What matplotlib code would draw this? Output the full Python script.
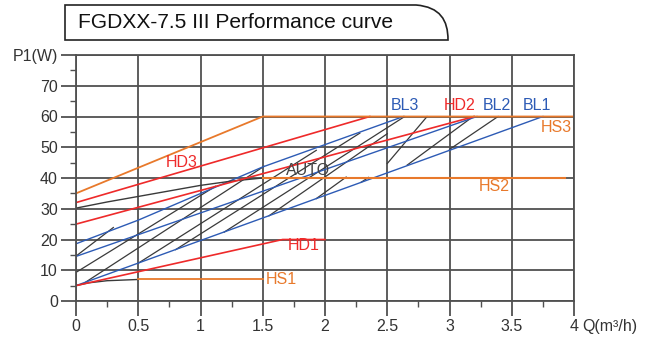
import numpy as np
import matplotlib.pyplot as plt
from matplotlib.path import Path
from matplotlib.patches import PathPatch

plt.rcParams['font.family'] = ['Liberation Sans', 'DejaVu Sans']

# --- data (Q in m3/h, P1 in W) ---
hs3_q = [0, 1.5, 4.0]
hs3_p = [35, 60, 60]
hd3_q = [0, 2.36]
hd3_p = [32, 60]
hd2_q = [0, 3.2]
hd2_p = [25, 60]
hd1_q = [0, 1.66, 2.0]
hd1_p = [5, 20, 20]
bl3_q = [0, 0.5, 1.5, 2.63]
bl3_p = [18.6, 26.3, 43.6, 60]
bl2_q = [0, 3.22]
bl2_p = [14.5, 60]
bl1_q = [0, 3.75]
bl1_p = [5, 60]
auto_q = [0, 0.25, 0.5, 0.75, 1.0, 1.25, 1.5]
auto_p = [30.2, 32.2, 34.0, 35.8, 37.6, 39.0, 40.0]
hs2_q = [1.5, 3.93]
hs2_p = [40, 40]
hs1c_q = [0, 0.1, 0.25, 0.5]
hs1c_p = [5, 5.9, 6.6, 7.0]
hs1_q = [0.5, 1.5]
hs1_p = [7, 7]

# hatch segments: q0, p0, q1, p1
hatch = [
    (0, 9.3, 1.12, 37.3),
    (0.08, 6.2, 1.51, 43.8),
    (0, 14.6, 0.30, 23.9),
    (0.5, 12.3, 1.93, 49.0),
    (0.8, 16.7, 2.28, 54.6),
    (1.19, 22.4, 2.64, 60.0),
    (1.55, 27.7, 2.50, 54.4),
    (1.93, 33.3, 2.17, 40.3),
    (2.29, 38.6, 2.35, 40.2),
    (2.50, 44.7, 2.82, 60.0),
    (2.66, 44.2, 3.19, 60.0),
    (3.00, 49.3, 3.39, 60.0),
]

c_or = '#E8792B'
c_red = '#EE2A2A'
c_blue = '#2D5BB5'
c_blk = '#3A3A3A'
c_grid = '#505050'

fig = plt.figure(figsize=(6.48, 3.42), dpi=100)
ax = fig.add_axes([76/648, 41/342, 498/648, 246/342])

ax.set_xlim(0, 4)
ax.set_ylim(0, 80)
ax.set_xticks(np.arange(0, 4.01, 0.5))
ax.set_xticklabels(['0', '0.5', '1', '1.5', '2', '2.5', '3', '3.5', '4'])
ax.set_xticks(np.arange(0.25, 4, 0.5), minor=True)
ax.set_yticks(np.arange(0, 81, 10))
ax.set_yticklabels(['0', '10', '20', '30', '40', '50', '60', '70', 'P1(W)'])
ax.set_yticks(np.arange(5, 80, 10), minor=True)
ax.grid(True, which='major', color=c_grid, lw=1.3)
ax.tick_params(which='major', length=11, width=1.3, color=c_grid,
               labelsize=11.5, labelcolor='#333333', pad=2)
ax.tick_params(which='minor', length=4, width=1.0, color=c_grid)
for s in ax.spines.values():
    s.set_color(c_grid)
    s.set_linewidth(1.3)

for q0, p0, q1, p1 in hatch:
    ax.plot([q0, q1], [p0, p1], color=c_blk, lw=0.9)

ax.plot(bl1_q, bl1_p, color=c_blue, lw=1.0)
ax.plot(bl2_q, bl2_p, color=c_blue, lw=1.0)
ax.plot(bl3_q, bl3_p, color=c_blue, lw=1.0)
ax.plot(auto_q, auto_p, color=c_blk, lw=1.0)
ax.plot(hs1c_q, hs1c_p, color=c_blk, lw=1.0)
ax.plot(hd1_q, hd1_p, color=c_red, lw=1.2)
ax.plot(hd2_q, hd2_p, color=c_red, lw=1.2)
ax.plot(hd3_q, hd3_p, color=c_red, lw=1.2)
ax.plot(hs1_q, hs1_p, color=c_or, lw=1.3)
ax.plot(hs2_q, hs2_p, color=c_or, lw=1.5)
ax.plot(hs3_q, hs3_p, color=c_or, lw=1.3)

fs = 11.5
ax.text(0.85, 45, 'HD3', color=c_red, fontsize=fs, ha='center', va='center')
ax.text(1.86, 42.5, 'AUTO', color='#444444', fontsize=fs, ha='center', va='center')
ax.text(1.83, 17.9, 'HD1', color=c_red, fontsize=fs, ha='center', va='center')
ax.text(1.65, 7.1, 'HS1', color=c_or, fontsize=fs, ha='center', va='center')
ax.text(3.36, 37.3, 'HS2', color=c_or, fontsize=fs, ha='center', va='center')
ax.text(3.86, 56.5, 'HS3', color=c_or, fontsize=fs, ha='center', va='center')
ax.text(2.64, 63.5, 'BL3', color=c_blue, fontsize=fs, ha='center', va='center')
ax.text(3.08, 63.5, 'HD2', color=c_red, fontsize=fs, ha='center', va='center')
ax.text(3.38, 63.5, 'BL2', color=c_blue, fontsize=fs, ha='center', va='center')
ax.text(3.70, 63.5, 'BL1', color=c_blue, fontsize=fs, ha='center', va='center')

fig.text(582/648, 1 - 326/342, 'Q(m³/h)', fontsize=11.5, color='#333333',
         ha='left', va='center')

# title tab with rounded upper-right corner
W, H = 648, 342
x0, x1, y0, y1 = 65, 448, 5, 40
pts = [(x0, y1), (x0, y0), (x1 - 32, y0), (x1 - 8, y0 + 2), (x1, y1 - 20), (x1, y1), (x0, y1)]
codes = [Path.MOVETO, Path.LINETO, Path.LINETO, Path.CURVE4, Path.CURVE4, Path.CURVE4, Path.CLOSEPOLY]
pts = [(x / W, 1 - y / H) for x, y in pts]
fig.patches.append(PathPatch(Path(pts, codes), transform=fig.transFigure,
                             facecolor='white', edgecolor='#222222', lw=1.2))
fig.text(78 / W, 1 - 23 / H, 'FGDXX-7.5 III Performance curve', fontsize=15.1,
         color='#111111', ha='left', va='center')

fig.savefig('out.png', dpi=100)
